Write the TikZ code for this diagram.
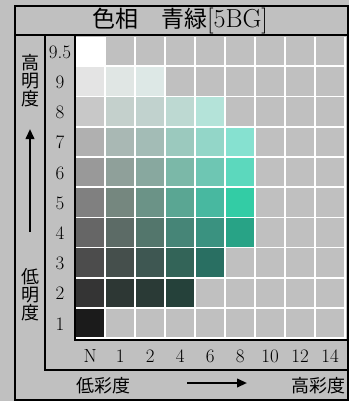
\documentclass[tikz,border=0pt]{standalone}
\usepackage{fontspec}
\usetikzlibrary{arrows.meta}
\newfontfamily\jpfont{Noto Sans CJK JP}
\definecolor{bgGray}{HTML}{C0C0C0}

\begin{document}
\begin{tikzpicture}[x=1pt, y=-1pt, line width=2pt,
	numlabel/.style={inner sep=0pt, font=\fontsize{19}{19}\selectfont},
	jplabel/.style={inner sep=0pt, align=center, font=\jpfont\fontsize{18}{18}\selectfont},
	scalearrow/.style={line width=2.2pt, -{Triangle[length=10pt, width=8.5pt]}}]
	\useasboundingbox (0,0) rectangle (349,401);
	\fill[bgGray] (0,0) rectangle (349,401);
	
	% grid of value / chroma cells
	\fill[white] (76,37) rectangle (346,339);
	\foreach \r in {0,...,9}
		\foreach \c in {0,...,8}
			\fill[bgGray] ({76+30*\c},{37+30.2*\r}) rectangle +(28.3,28.5);
	\foreach \r/\c/\hex in {0/0/FFFFFF,
			1/0/E4E4E4, 1/1/E0E6E4, 1/2/DDE8E6,
			2/0/C8C8C8, 2/1/C4D0CC, 2/2/C1D2CE, 2/3/BDD9D2, 2/4/B4E3D9,
			3/0/B0B0B0, 3/1/A9B8B4, 3/2/A3BCB6, 3/3/9BC9BE, 3/4/93D6C8, 3/5/86E1D0,
			4/0/999999, 4/1/8FA09A, 4/2/88A89F, 4/3/7BB8A8, 4/4/6EC6B3, 4/5/5CD8BD,
			5/0/808080, 5/1/75877F, 5/2/6B9387, 5/3/5AA693, 5/4/48B8A0, 5/5/33CCA5,
			6/0/666666, 6/1/5C6B66, 6/2/53766C, 6/3/468577, 6/4/3A9280, 6/5/28A386,
			7/0/4C4C4C, 7/1/454F4C, 7/2/3E5752, 7/3/336458, 7/4/296F62,
			8/0/343434, 8/1/2D3734, 8/2/2A3A36, 8/3/25413A,
			9/0/1B1B1B} {
		\definecolor{cellcol}{HTML}{\hex}
		\fill[cellcol] ({76+30*\c},{37+30.2*\r}) rectangle +(28.3,28.5);
	}
	
	% frame lines
	\draw (15,6.5) rectangle (347.5,399.5);
	\draw (15,35.5) -- (347.5,35.5);
	\draw (45,35.5) -- (45,370) -- (347.5,370);
	\draw (75,35.5) -- (75,339.5) -- (347.5,339.5);
	
	\node (title) at (180,21) {\jpfont\fontsize{23}{23}\selectfont 色相　青緑\fontspec{Latin Modern Roman}\fontsize{26}{26}\selectfont[5BG]};
	
	\foreach \lab [count=\i from 0] in {9.5,9,8,7,6,5,4,3,2,1}
		\node[numlabel] (value\i) at (60,{37+30.2*\i+15.1}) {\lab};
	\foreach \lab [count=\j from 0] in {N,1,2,4,6,8,10,12,14}
		\node[numlabel] (chroma\j) at ({76+30*\j+14.2},356) {\lab};
	
	\node[jplabel] (highValue) at (30,81) {高\\明\\度};
	\node[jplabel] (lowValue) at (30,295) {低\\明\\度};
	\node[jplabel] (lowChroma) at (103,386) {低彩度};
	\node[jplabel] (highChroma) at (318,386) {高彩度};
	
	\coordinate (valueFrom) at (30,232);
	\coordinate (valueTo) at (30,129);
	\coordinate (chromaFrom) at (187,383);
	\coordinate (chromaTo) at (247,383);
	\draw[scalearrow] (valueFrom) -- (valueTo);
	\draw[scalearrow] (chromaFrom) -- (chromaTo);
\end{tikzpicture}
\end{document}
